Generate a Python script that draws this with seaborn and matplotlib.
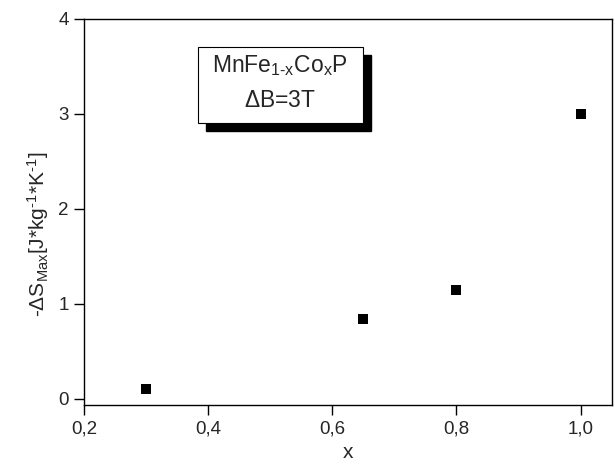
import numpy as np
import pandas as pd
import matplotlib
matplotlib.use("Agg")
import matplotlib.pyplot as plt
import seaborn as sns
from matplotlib.patches import Rectangle
from matplotlib.ticker import FuncFormatter

sns.set_style("ticks")
plt.rcParams['font.family'] = ['Liberation Sans', 'DejaVu Sans']
plt.rcParams['mathtext.fontset'] = 'custom'
plt.rcParams['mathtext.rm'] = 'Liberation Sans'
plt.rcParams['mathtext.it'] = 'Liberation Sans'
plt.rcParams['mathtext.default'] = 'regular'

# ================== 数据 ==================
x_vals = [0.3, 0.65, 0.8, 1.0]
ds_max = [0.10, 0.84, 1.15, 3.0]
x_ticks = [0.2, 0.4, 0.6, 0.8, 1.0]
y_ticks = [0, 1, 2, 3, 4]

df = pd.DataFrame({"x": x_vals, "dS": ds_max})

# ================== 绘图 ==================
fig = plt.figure(figsize=(6.15, 4.70), dpi=100)
ax = fig.add_axes([0.1366, 0.138, 0.858, 0.822])

sns.scatterplot(data=df, x="x", y="dS", ax=ax, marker="s", s=45,
                color="black", edgecolor="black", linewidth=0)

ax.set_xlim(0.2, 1.05)
ax.set_ylim(-0.065, 4)
ax.set_xticks(x_ticks)
ax.set_yticks(y_ticks)
ax.xaxis.set_major_formatter(FuncFormatter(lambda v, p: f"{v:.1f}".replace(".", ",")))
ax.tick_params(direction="out", length=7, width=1, labelsize=13.5, color="black", pad=4)
ax.tick_params(top=False, right=False)
for sp in ax.spines.values():
    sp.set_color("black")
    sp.set_linewidth(1)

ax.set_xlabel("x", fontsize=15, labelpad=4)
ax.set_ylabel(r"-$\Delta$S$_{Max}$[J*kg$^{\text{-}1}$*K$^{\text{-}1}$]", fontsize=15)
ax.yaxis.set_label_coords(-0.062, 0.443)

# 带阴影的文本框
bx, by, bw, bh = 0.216, 0.731, 0.312, 0.197
ax.add_patch(Rectangle((bx + 0.015, by - 0.021), bw, bh, transform=ax.transAxes,
                       facecolor="black", edgecolor="black", zorder=3))
ax.add_patch(Rectangle((bx, by), bw, bh, transform=ax.transAxes,
                       facecolor="white", edgecolor="black", linewidth=0.8, zorder=4))
ax.text(bx + bw / 2, 0.863, r"MnFe$_{1\text{-}x}$Co$_x$P", transform=ax.transAxes,
        ha="center", va="baseline", fontsize=16.5, zorder=5)
ax.text(bx + bw / 2, 0.772, r"$\Delta$B=3T", transform=ax.transAxes,
        ha="center", va="baseline", fontsize=16.5, zorder=5)

fig.savefig("out.png", dpi=100)
